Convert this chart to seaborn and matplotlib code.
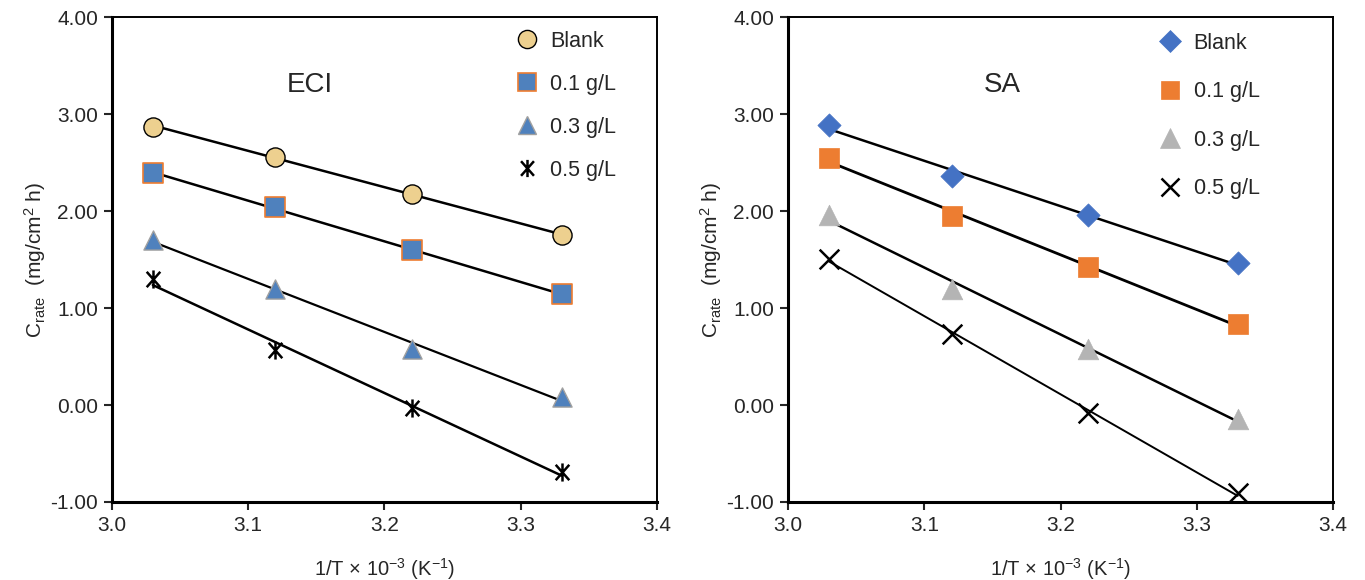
import numpy as np
import pandas as pd
import matplotlib
matplotlib.use("Agg")
import matplotlib.pyplot as plt
from matplotlib.path import Path
from matplotlib.lines import Line2D
import seaborn as sns

# ---------------- data ----------------
inv_T = [3.03, 3.12, 3.22, 3.33]
series_labels = ["Blank", "0.1 g/L", "0.3 g/L", "0.5 g/L"]

eci_blank = [2.87, 2.56, 2.18, 1.75]
eci_01 = [2.39, 2.04, 1.60, 1.14]
eci_03 = [1.70, 1.20, 0.58, 0.08]
eci_05 = [1.30, 0.57, -0.03, -0.69]

sa_blank = [2.89, 2.36, 1.96, 1.46]
sa_01 = [2.55, 1.95, 1.42, 0.84]
sa_03 = [1.96, 1.20, 0.58, -0.14]
sa_05 = [1.51, 0.73, -0.08, -0.91]

x_ticks = [3.0, 3.1, 3.2, 3.3, 3.4]
y_ticks = [-1.0, 0.0, 1.0, 2.0, 3.0, 4.0]

# ---------------- style ----------------
sns.set_style("white")
plt.rcParams['font.family'] = ['Liberation Sans', 'DejaVu Sans']
plt.rcParams['mathtext.fontset'] = 'custom'
plt.rcParams['mathtext.rm'] = 'Liberation Sans'
plt.rcParams['mathtext.it'] = 'Liberation Sans'

star_path = Path(
    [(0, -1), (0, 1), (-0.75, -0.85), (0.75, 0.85), (-0.75, 0.85), (0.75, -0.85)],
    [Path.MOVETO, Path.LINETO, Path.MOVETO, Path.LINETO, Path.MOVETO, Path.LINETO],
)

eci_styles = [
    dict(marker="o", s=190, color="#EDD08F", edgecolor="black", linewidth=1.0),
    dict(marker="s", s=190, color="#4F81BD", edgecolor="#ED7D31", linewidth=1.2),
    dict(marker="^", s=190, color="#4F81BD", edgecolor="#A0A0A0", linewidth=1.0),
    dict(marker=star_path, s=170, color="black", edgecolor="black", linewidth=1.8),
]
sa_styles = [
    dict(marker="D", s=140, color="#4472C4", edgecolor="#4472C4", linewidth=0.5),
    dict(marker="s", s=200, color="#ED7D31", edgecolor="#ED7D31", linewidth=0.5),
    dict(marker="^", s=220, color="#B4B4B4", edgecolor="#B4B4B4", linewidth=0.5),
    dict(marker="x", s=200, color="black", linewidth=1.8),
]
eci_lw = [1.8, 1.8, 1.6, 1.8]
sa_lw = [1.8, 2.0, 1.8, 1.4]

fig = plt.figure(figsize=(13.65, 5.8), dpi=100)
ax1 = fig.add_axes([0.082, 0.1345, 0.3993, 0.836])
ax2 = fig.add_axes([0.5773, 0.1345, 0.3993, 0.836])

def draw(ax, ys, styles, lws, title, title_x, leg_spacing, leg_anchor):
    handles = []
    for lab, y, st, lw in zip(series_labels, ys, styles, lws):
        df = pd.DataFrame({"x": inv_T, "y": y})
        sns.regplot(data=df, x="x", y="y", ax=ax, scatter=False, ci=None,
                    truncate=True, line_kws=dict(color="black", lw=lw, zorder=2))
        sns.scatterplot(data=df, x="x", y="y", ax=ax, zorder=3, legend=False, **st)
        kw = dict(marker=st["marker"], linestyle="none",
                  markerfacecolor=st["color"],
                  markeredgecolor=st.get("edgecolor", st["color"]),
                  markeredgewidth=st["linewidth"],
                  markersize=np.sqrt(st["s"]) * 0.95)
        handles.append(Line2D([], [], label=lab, **kw))
    ax.set_xlim(3.0, 3.4)
    ax.set_ylim(-1.0, 4.0)
    ax.set_xticks(x_ticks)
    ax.set_yticks(y_ticks)
    ax.set_xticklabels([f"{v:.1f}" for v in x_ticks])
    ax.set_yticklabels([f"{v:.2f}" for v in y_ticks])
    ax.tick_params(direction="out", length=6, width=1.5, labelsize=15,
                   left=True, bottom=True, pad=4)
    for side in ["left", "bottom"]:
        ax.spines[side].set_linewidth(2.2)
    for side in ["top", "right"]:
        ax.spines[side].set_linewidth(1.4)
    for sp in ax.spines.values():
        sp.set_color("black")
        sp.set_visible(True)
    ax.set_xlabel(r"1/T × 10$^{-3}$ (K$^{-1}$)", fontsize=14.5, labelpad=15)
    ax.set_ylabel(r"C$_{\mathrm{rate}}$  (mg/cm$^{2}$ h)", fontsize=15, labelpad=2)
    ax.text(title_x, 0.86, title, transform=ax.transAxes, fontsize=20,
            ha="center", va="center")
    ax.legend(handles=handles, loc="upper left", frameon=False, fontsize=15.5,
              labelspacing=leg_spacing, handletextpad=0.6, handlelength=1.0,
              borderpad=0, borderaxespad=0, bbox_to_anchor=leg_anchor)

draw(ax1, [eci_blank, eci_01, eci_03, eci_05], eci_styles, eci_lw,
     "ECI", 0.363, 1.02, (0.741, 0.972))
draw(ax2, [sa_blank, sa_01, sa_03, sa_05], sa_styles, sa_lw,
     "SA", 0.393, 1.28, (0.681, 0.968))

fig.savefig("out.png", dpi=100)
